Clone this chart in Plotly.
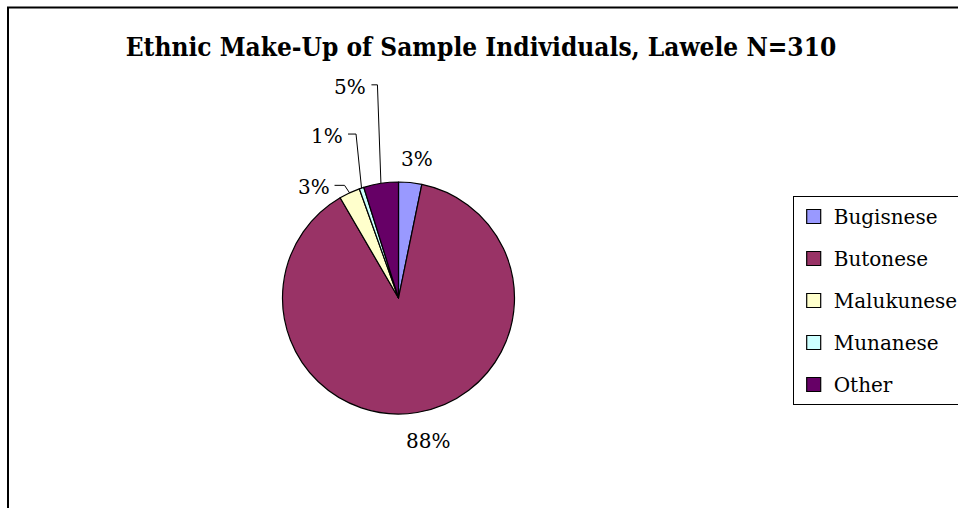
import math
import plotly.graph_objects as go

# --- data -------------------------------------------------------------
groups = ["Bugisnese", "Butonese", "Malukunese", "Munanese", "Other"]
counts = [10, 274, 9, 2, 15]          # individuals, N = 310
colors = ["#9999FF", "#993366", "#FFFFCC", "#CCFFFF", "#660066"]
title_text = "Ethnic Make-Up of Sample Individuals, Lawele N=310"

# --- geometry (pixels) -------------------------------------------------
W, H = 958, 508
CX, CY, R = 398.5, 298.0, 116.0       # pie centre and radius
SERIF = "DejaVu Serif"
TITLE_FONT = "DejaVu Serif Condensed, DejaVu Serif"
LABEL_SIZE = 20

# how each percentage label is placed
# ("radial", distance, x nudge) or ("leader", lift, shift, tail)
label_place = {
    "Bugisnese": ("radial", 140, 4),
    "Butonese": ("radial", 145, 6),
    "Malukunese": ("leader", 7.5, 5, 10),
    "Munanese": ("leader", 54, 5.5, 8),
    "Other": ("leader", 98.5, 3.5, 6),
}


def at(angle_deg, r):
    a = math.radians(angle_deg)
    return CX + r * math.sin(a), CY - r * math.cos(a)


total = sum(counts)
fig = go.Figure()

fig.add_trace(go.Pie(
    labels=groups,
    values=counts,
    sort=False,
    direction="clockwise",
    rotation=0,
    marker=dict(colors=colors, line=dict(color="black", width=1.2)),
    textinfo="none",
    hoverinfo="label+value+percent",
    showlegend=False,
    domain=dict(x=[(CX - R) / W, (CX + R) / W],
                y=[1 - (CY + R) / H, 1 - (CY - R) / H]),
))

# legend entries, one group per category so the rows can be spaced out
for g, c in zip(groups, colors):
    fig.add_trace(go.Scatter(
        x=[None], y=[None], mode="markers", name=g, legendgroup=g,
        marker=dict(symbol="square", size=14, color=c,
                    line=dict(color="black", width=1.2)),
        hoverinfo="skip",
    ))

annotations = []
shapes = []
cum = 0.0
for g, v in zip(groups, counts):
    share = v / total
    mid = (cum + share / 2) * 360
    cum += share
    text = f"{round(share * 100)}%"
    place = label_place[g]
    if place[0] == "radial":
        lx, ly = at(mid, place[1])
        annotations.append(dict(x=lx + place[2], y=ly, text=text,
                                xanchor="center", yanchor="middle",
                                showarrow=False))
    else:
        lift, shift, tail = place[1], place[2], place[3]
        ex, ey = at(mid, R)
        bx, by = ex - shift, ey - lift
        tx = bx - tail
        shapes.append(dict(type="path", xref="x", yref="y",
                           path=f"M{ex:.2f},{ey:.2f} L{bx:.2f},{by:.2f} L{tx:.2f},{by:.2f}",
                           line=dict(color="black", width=1)))
        annotations.append(dict(x=tx - 3, y=by + 2, text=text,
                                xanchor="right", yanchor="middle",
                                showarrow=False))

for a in annotations:
    a.update(xref="x", yref="y", font=dict(family=SERIF, size=LABEL_SIZE, color="black"))

# chart frame
shapes.append(dict(type="rect", xref="paper", yref="paper",
                   x0=8 / W, y0=1 - 7.5 / H, x1=1.1, y1=-0.1,
                   line=dict(color="black", width=2), fillcolor="rgba(0,0,0,0)"))

fig.update_layout(
    width=W, height=H,
    margin=dict(l=0, r=0, t=0, b=0, pad=0, autoexpand=False),
    paper_bgcolor="white", plot_bgcolor="white",
    font=dict(family=SERIF, color="black"),
    title=dict(text=f"<b>{title_text}</b>", x=481 / W, xanchor="center",
               y=1 - 47 / H, yanchor="middle",
               font=dict(family=TITLE_FONT, size=26, color="black")),
    xaxis=dict(range=[0, W], visible=False, domain=[0, 1], fixedrange=True),
    yaxis=dict(range=[H, 0], visible=False, domain=[0, 1], fixedrange=True),
    legend=dict(x=792.7 / W, xanchor="left", y=1 - 196 / H, yanchor="top",
                traceorder="grouped", tracegroupgap=13,
                bordercolor="black", borderwidth=1, bgcolor="white",
                font=dict(family=SERIF, size=20, color="black")),
    annotations=annotations,
    shapes=shapes,
)

fig.write_html("out.html")
